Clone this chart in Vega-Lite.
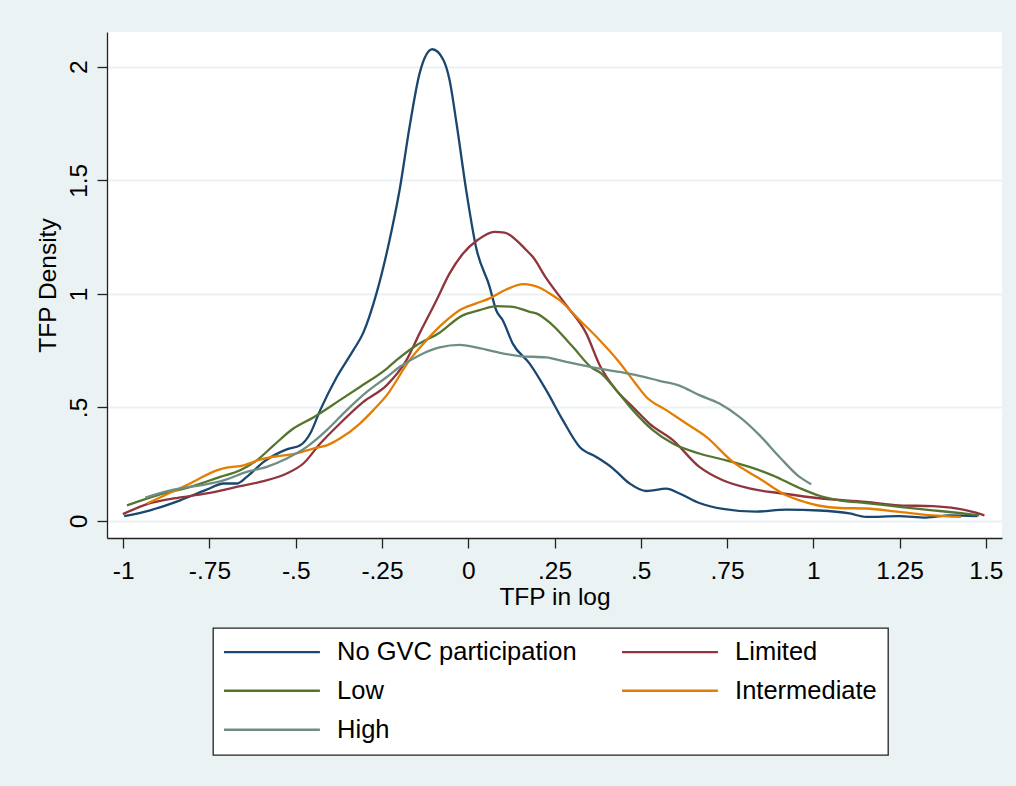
{
  "$schema": "https://vega.github.io/schema/vega-lite/v6.json",
  "autosize": {"type": "none"},
  "width": 895,
  "height": 506,
  "padding": {"left": 107, "top": 32, "right": 14, "bottom": 248},
  "background": "#EAF2F3",
  "config": {
    "view": {"fill": "white", "stroke": null},
    "font": "Liberation Sans"
  },
  "datasets": {
    "d": [
      {"g":"No GVC participation","x":-0.997,"y":0.021},{"g":"No GVC participation","x":-0.922,"y":0.047},{"g":"No GVC participation","x":-0.835,"y":0.091},{"g":"No GVC participation","x":-0.758,"y":0.138},{"g":"No GVC participation","x":-0.709,"y":0.165},{"g":"No GVC participation","x":-0.671,"y":0.165},{"g":"No GVC participation","x":-0.642,"y":0.194},{"g":"No GVC participation","x":-0.593,"y":0.26},{"g":"No GVC participation","x":-0.526,"y":0.315},{"g":"No GVC participation","x":-0.487,"y":0.333},{"g":"No GVC participation","x":-0.458,"y":0.385},{"g":"No GVC participation","x":-0.429,"y":0.488},{"g":"No GVC participation","x":-0.381,"y":0.634},{"g":"No GVC participation","x":-0.333,"y":0.752},{"g":"No GVC participation","x":-0.305,"y":0.826},{"g":"No GVC participation","x":-0.266,"y":1.002},{"g":"No GVC participation","x":-0.228,"y":1.237},{"g":"No GVC participation","x":-0.199,"y":1.457},{"g":"No GVC participation","x":-0.17,"y":1.736},{"g":"No GVC participation","x":-0.141,"y":1.971},{"g":"No GVC participation","x":-0.104,"y":2.077},{"g":"No GVC participation","x":-0.072,"y":2.03},{"g":"No GVC participation","x":-0.054,"y":1.941},{"g":"No GVC participation","x":-0.034,"y":1.751},{"g":"No GVC participation","x":-0.006,"y":1.457},{"g":"No GVC participation","x":0.023,"y":1.203},{"g":"No GVC participation","x":0.062,"y":1.031},{"g":"No GVC participation","x":0.081,"y":0.928},{"g":"No GVC participation","x":0.1,"y":0.884},{"g":"No GVC participation","x":0.129,"y":0.781},{"g":"No GVC participation","x":0.178,"y":0.693},{"g":"No GVC participation","x":0.226,"y":0.576},{"g":"No GVC participation","x":0.274,"y":0.444},{"g":"No GVC participation","x":0.323,"y":0.326},{"g":"No GVC participation","x":0.371,"y":0.282},{"g":"No GVC participation","x":0.419,"y":0.232},{"g":"No GVC participation","x":0.467,"y":0.166},{"g":"No GVC participation","x":0.516,"y":0.132},{"g":"No GVC participation","x":0.574,"y":0.142},{"g":"No GVC participation","x":0.612,"y":0.121},{"g":"No GVC participation","x":0.67,"y":0.079},{"g":"No GVC participation","x":0.738,"y":0.053},{"g":"No GVC participation","x":0.834,"y":0.041},{"g":"No GVC participation","x":0.921,"y":0.05},{"g":"No GVC participation","x":1.018,"y":0.046},{"g":"No GVC participation","x":1.105,"y":0.033},{"g":"No GVC participation","x":1.153,"y":0.018},{"g":"No GVC participation","x":1.249,"y":0.021},{"g":"No GVC participation","x":1.327,"y":0.015},{"g":"No GVC participation","x":1.394,"y":0.025},{"g":"No GVC participation","x":1.476,"y":0.021},

      {"g":"Limited","x":-1.001,"y":0.03},{"g":"Limited","x":-0.931,"y":0.074},{"g":"Limited","x":-0.854,"y":0.099},{"g":"Limited","x":-0.758,"y":0.121},{"g":"Limited","x":-0.68,"y":0.147},{"g":"Limited","x":-0.603,"y":0.172},{"g":"Limited","x":-0.526,"y":0.209},{"g":"Limited","x":-0.478,"y":0.253},{"g":"Limited","x":-0.429,"y":0.341},{"g":"Limited","x":-0.372,"y":0.429},{"g":"Limited","x":-0.304,"y":0.524},{"g":"Limited","x":-0.236,"y":0.598},{"g":"Limited","x":-0.179,"y":0.708},{"g":"Limited","x":-0.141,"y":0.826},{"g":"Limited","x":-0.092,"y":0.972},{"g":"Limited","x":-0.054,"y":1.09},{"g":"Limited","x":-0.015,"y":1.178},{"g":"Limited","x":0.027,"y":1.237},{"g":"Limited","x":0.076,"y":1.273},{"g":"Limited","x":0.105,"y":1.27},{"g":"Limited","x":0.139,"y":1.237},{"g":"Limited","x":0.168,"y":1.193},{"g":"Limited","x":0.187,"y":1.163},{"g":"Limited","x":0.226,"y":1.069},{"g":"Limited","x":0.284,"y":0.95},{"g":"Limited","x":0.342,"y":0.826},{"g":"Limited","x":0.381,"y":0.686},{"g":"Limited","x":0.429,"y":0.576},{"g":"Limited","x":0.477,"y":0.502},{"g":"Limited","x":0.525,"y":0.429},{"g":"Limited","x":0.593,"y":0.356},{"g":"Limited","x":0.67,"y":0.238},{"g":"Limited","x":0.738,"y":0.179},{"g":"Limited","x":0.815,"y":0.143},{"g":"Limited","x":0.911,"y":0.121},{"g":"Limited","x":1.018,"y":0.1},{"g":"Limited","x":1.153,"y":0.084},{"g":"Limited","x":1.249,"y":0.069},{"g":"Limited","x":1.346,"y":0.065},{"g":"Limited","x":1.414,"y":0.055},{"g":"Limited","x":1.462,"y":0.04},{"g":"Limited","x":1.496,"y":0.025},

      {"g":"Low","x":-0.989,"y":0.069},{"g":"Low","x":-0.902,"y":0.113},{"g":"Low","x":-0.806,"y":0.15},{"g":"Low","x":-0.719,"y":0.194},{"g":"Low","x":-0.661,"y":0.223},{"g":"Low","x":-0.613,"y":0.267},{"g":"Low","x":-0.564,"y":0.333},{"g":"Low","x":-0.507,"y":0.407},{"g":"Low","x":-0.449,"y":0.456},{"g":"Low","x":-0.372,"y":0.532},{"g":"Low","x":-0.314,"y":0.59},{"g":"Low","x":-0.236,"y":0.671},{"g":"Low","x":-0.208,"y":0.708},{"g":"Low","x":-0.15,"y":0.774},{"g":"Low","x":-0.083,"y":0.829},{"g":"Low","x":-0.02,"y":0.902},{"g":"Low","x":0.033,"y":0.928},{"g":"Low","x":0.081,"y":0.946},{"g":"Low","x":0.129,"y":0.943},{"g":"Low","x":0.178,"y":0.921},{"g":"Low","x":0.197,"y":0.914},{"g":"Low","x":0.241,"y":0.867},{"g":"Low","x":0.303,"y":0.767},{"g":"Low","x":0.361,"y":0.671},{"g":"Low","x":0.381,"y":0.655},{"g":"Low","x":0.429,"y":0.576},{"g":"Low","x":0.477,"y":0.488},{"g":"Low","x":0.535,"y":0.4},{"g":"Low","x":0.593,"y":0.341},{"g":"Low","x":0.67,"y":0.297},{"g":"Low","x":0.747,"y":0.267},{"g":"Low","x":0.815,"y":0.238},{"g":"Low","x":0.882,"y":0.201},{"g":"Low","x":0.96,"y":0.145},{"g":"Low","x":1.018,"y":0.111},{"g":"Low","x":1.076,"y":0.091},{"g":"Low","x":1.153,"y":0.079},{"g":"Low","x":1.249,"y":0.062},{"g":"Low","x":1.346,"y":0.047},{"g":"Low","x":1.423,"y":0.035},{"g":"Low","x":1.481,"y":0.025},

      {"g":"Intermediate","x":-0.931,"y":0.077},{"g":"Intermediate","x":-0.873,"y":0.118},{"g":"Intermediate","x":-0.806,"y":0.165},{"g":"Intermediate","x":-0.729,"y":0.223},{"g":"Intermediate","x":-0.7,"y":0.235},{"g":"Intermediate","x":-0.651,"y":0.245},{"g":"Intermediate","x":-0.603,"y":0.27},{"g":"Intermediate","x":-0.555,"y":0.285},{"g":"Intermediate","x":-0.507,"y":0.294},{"g":"Intermediate","x":-0.449,"y":0.319},{"g":"Intermediate","x":-0.41,"y":0.333},{"g":"Intermediate","x":-0.372,"y":0.363},{"g":"Intermediate","x":-0.314,"y":0.429},{"g":"Intermediate","x":-0.275,"y":0.488},{"g":"Intermediate","x":-0.236,"y":0.554},{"g":"Intermediate","x":-0.17,"y":0.708},{"g":"Intermediate","x":-0.121,"y":0.796},{"g":"Intermediate","x":-0.073,"y":0.87},{"g":"Intermediate","x":-0.025,"y":0.928},{"g":"Intermediate","x":0.023,"y":0.958},{"g":"Intermediate","x":0.062,"y":0.98},{"g":"Intermediate","x":0.11,"y":1.019},{"g":"Intermediate","x":0.16,"y":1.043},{"g":"Intermediate","x":0.207,"y":1.027},{"g":"Intermediate","x":0.236,"y":1.002},{"g":"Intermediate","x":0.265,"y":0.972},{"g":"Intermediate","x":0.323,"y":0.884},{"g":"Intermediate","x":0.381,"y":0.796},{"g":"Intermediate","x":0.433,"y":0.708},{"g":"Intermediate","x":0.482,"y":0.611},{"g":"Intermediate","x":0.516,"y":0.546},{"g":"Intermediate","x":0.574,"y":0.488},{"g":"Intermediate","x":0.632,"y":0.429},{"g":"Intermediate","x":0.69,"y":0.37},{"g":"Intermediate","x":0.767,"y":0.26},{"g":"Intermediate","x":0.844,"y":0.187},{"g":"Intermediate","x":0.921,"y":0.113},{"g":"Intermediate","x":0.979,"y":0.082},{"g":"Intermediate","x":1.018,"y":0.067},{"g":"Intermediate","x":1.076,"y":0.057},{"g":"Intermediate","x":1.153,"y":0.055},{"g":"Intermediate","x":1.249,"y":0.04},{"g":"Intermediate","x":1.346,"y":0.025},{"g":"Intermediate","x":1.428,"y":0.018},

      {"g":"High","x":-0.936,"y":0.103},{"g":"High","x":-0.854,"y":0.138},{"g":"High","x":-0.777,"y":0.157},{"g":"High","x":-0.709,"y":0.179},{"g":"High","x":-0.642,"y":0.216},{"g":"High","x":-0.584,"y":0.238},{"g":"High","x":-0.526,"y":0.275},{"g":"High","x":-0.468,"y":0.326},{"g":"High","x":-0.41,"y":0.4},{"g":"High","x":-0.352,"y":0.488},{"g":"High","x":-0.294,"y":0.568},{"g":"High","x":-0.236,"y":0.634},{"g":"High","x":-0.199,"y":0.678},{"g":"High","x":-0.141,"y":0.73},{"g":"High","x":-0.083,"y":0.764},{"g":"High","x":-0.025,"y":0.775},{"g":"High","x":0.023,"y":0.764},{"g":"High","x":0.081,"y":0.744},{"g":"High","x":0.149,"y":0.726},{"g":"High","x":0.226,"y":0.72},{"g":"High","x":0.284,"y":0.7},{"g":"High","x":0.361,"y":0.676},{"g":"High","x":0.438,"y":0.656},{"g":"High","x":0.506,"y":0.636},{"g":"High","x":0.554,"y":0.617},{"g":"High","x":0.612,"y":0.596},{"g":"High","x":0.67,"y":0.554},{"g":"High","x":0.728,"y":0.517},{"g":"High","x":0.786,"y":0.458},{"g":"High","x":0.844,"y":0.378},{"g":"High","x":0.902,"y":0.282},{"g":"High","x":0.96,"y":0.194},{"g":"High","x":0.994,"y":0.162}
    ]
  },
  "data": {"name": "d"},
  "mark": {"type": "line", "strokeWidth": 2.3, "interpolate": "monotone"},
  "encoding": {
    "x": {
      "field": "x", "type": "quantitative",
      "scale": {"domain": [-1.047, 1.547], "nice": false, "zero": false},
      "axis": {
        "title": "TFP in log",
        "values": [-1, -0.75, -0.5, -0.25, 0, 0.25, 0.5, 0.75, 1, 1.25, 1.5],
        "labelExpr": "replace(toString(datum.value), '0.', '.')",
        "grid": false,
        "domainColor": "#222", "domainWidth": 1.3,
        "tickColor": "#222", "tickWidth": 1.3, "tickSize": 10,
        "labelFont": "Liberation Sans", "labelFontSize": 24.5, "labelColor": "#000", "labelPadding": 11,
        "labelFlush": false, "labelOverlap": false,
        "titleFont": "Liberation Sans", "titleFontSize": 24.5, "titleFontWeight": "normal", "titleColor": "#000", "titlePadding": 3
      }
    },
    "y": {
      "field": "y", "type": "quantitative",
      "scale": {"domain": [-0.075, 2.153], "nice": false, "zero": false},
      "axis": {
        "title": "TFP Density",
        "values": [0, 0.5, 1, 1.5, 2],
        "labelExpr": "replace(toString(datum.value), '0.', '.')",
        "grid": true, "gridColor": "#EAF2F3", "gridWidth": 2,
        "domainColor": "#222", "domainWidth": 1.3,
        "tickColor": "#222", "tickWidth": 1.3, "tickSize": 10,
        "labelAngle": -90, "labelAlign": "center", "labelBaseline": "bottom",
        "labelFont": "Liberation Sans", "labelFontSize": 24.5, "labelColor": "#000", "labelPadding": 6,
        "labelFlush": false, "labelOverlap": false,
        "titleFont": "Liberation Sans", "titleFontSize": 24.5, "titleFontWeight": "normal", "titleColor": "#000", "titlePadding": 6
      }
    },
    "color": {
      "field": "g", "type": "nominal",
      "scale": {
        "domain": ["No GVC participation", "Limited", "Low", "Intermediate", "High"],
        "range": ["#1a476f", "#90353b", "#55752f", "#e37e00", "#6e8e84"]
      },
      "legend": {
        "title": null,
        "orient": "none", "legendX": 106, "legendY": 596,
        "columns": 2, "direction": "horizontal",
        "fillColor": "white", "strokeColor": "#222",
        "padding": 11,
        "symbolType": "M-1,0L19,0", "symbolSize": 92, "symbolStrokeWidth": 2.3,
        "symbolOffset": -7.95,
        "labelOffset": 95.5,
        "labelFont": "Liberation Sans", "labelFontSize": 25.5, "labelColor": "#000", "labelLimit": 400,
        "rowPadding": 12, "columnPadding": 40,
        "encode": {"legend": {"update": {"strokeWidth": {"value": 1.3}}}}
      }
    }
  }
}
